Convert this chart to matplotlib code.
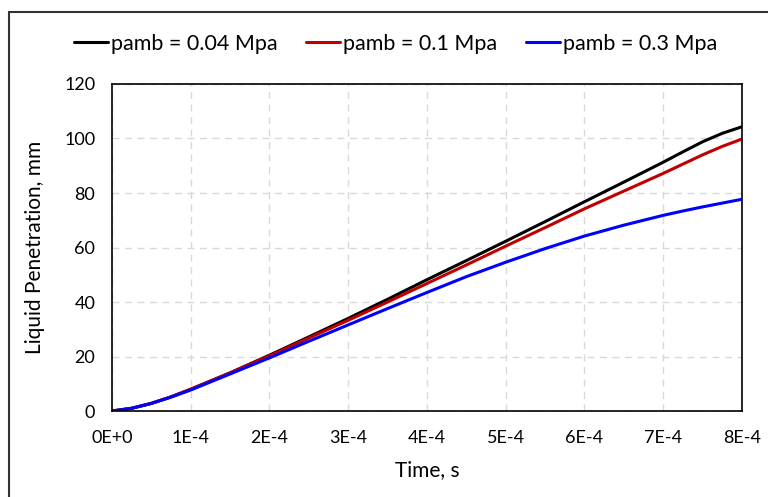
import matplotlib
matplotlib.use("Agg")
import matplotlib.pyplot as plt
from matplotlib.patches import Rectangle
from matplotlib.ticker import FuncFormatter

plt.rcParams['font.family'] = ['Lato', 'DejaVu Sans']

# time in units of 1E-4 s
time = [0, 0.25, 0.5, 0.75, 1, 1.5, 2, 2.5, 3, 3.5, 4, 4.5, 5, 5.5, 6, 6.5, 7, 7.25, 7.5, 7.75, 8]

# liquid penetration, mm
pen_004 = [0, 1.0, 2.8, 5.2, 8.0, 14.0, 20.5, 27.2, 34.0, 41.0, 48.2, 55.2, 62.3, 69.5, 76.8, 84.0, 91.3, 95.1, 98.8, 101.9, 104.3]
pen_01 = [0, 1.0, 2.8, 5.2, 8.0, 14.0, 20.3, 26.8, 33.3, 40.0, 46.8, 53.6, 60.5, 67.3, 74.2, 80.7, 87.2, 90.6, 94.0, 97.1, 99.8]
pen_03 = [0, 1.0, 2.8, 5.1, 7.7, 13.6, 19.5, 25.6, 31.6, 37.6, 43.5, 49.3, 54.6, 59.6, 64.2, 68.2, 71.8, 73.4, 74.9, 76.3, 77.7]

labels = ['pamb = 0.04 Mpa', 'pamb = 0.1 Mpa', 'pamb = 0.3 Mpa']
colors = ['#000000', '#c00000', '#0000ff']

fig = plt.figure(figsize=(7.68, 4.97), dpi=100)
ax = fig.add_axes([0.1458, 0.1730, 0.8203, 0.6580])

t = [v * 1e-4 for v in time]
for y, lab, c in zip([pen_004, pen_01, pen_03], labels, colors):
    ax.plot(t, y, color=c, lw=2.2, label=lab, solid_capstyle='round')

ax.set_xlim(0, 8e-4)
ax.set_ylim(0, 120)
ax.set_xticks([i * 1e-4 for i in range(9)])
ax.set_yticks(range(0, 121, 20))
ax.xaxis.set_major_formatter(FuncFormatter(lambda v, p: '0E+0' if p == 0 else f'{round(v * 1e4)}E-4'))
ax.tick_params(length=0, labelsize=13)
ax.tick_params(axis='x', pad=14)
ax.tick_params(axis='y', pad=12)
ax.grid(True, color='#d9d9d9', linestyle=(0, (5, 4)), lw=1)
ax.set_axisbelow(True)
for s in ax.spines.values():
    s.set_color('black')
    s.set_linewidth(1.2)

ax.set_xlabel('Time, s', fontsize=15, labelpad=10)
ax.set_ylabel('Liquid Penetration, mm', fontsize=15, labelpad=14)

fig.legend(loc='center', bbox_to_anchor=(0.515, 0.912), ncol=3, frameon=False,
           fontsize=15.5, handlelength=1.6, handletextpad=0.15, columnspacing=1.3)

# chart border
fig.patches.append(Rectangle((9 / 768, -0.05), 1.1, 1.05 - 12 / 497, transform=fig.transFigure,
                             fill=False, edgecolor='#333333', lw=1.5))

fig.savefig('out.png', dpi=100)
